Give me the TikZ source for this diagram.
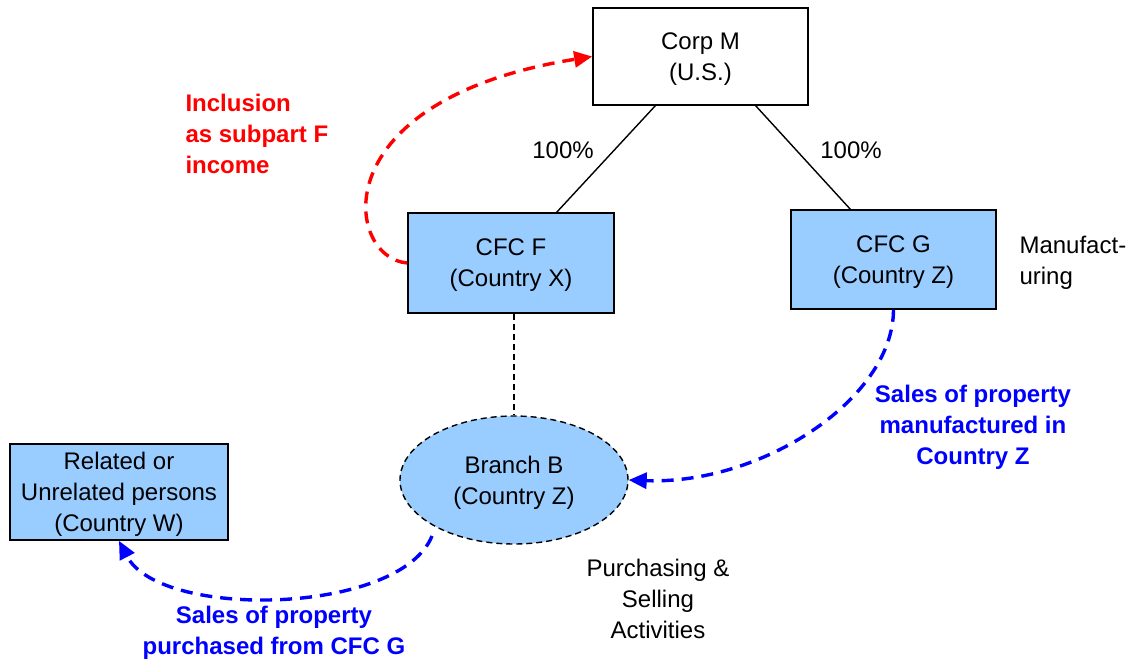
\documentclass[tikz,border=0pt]{standalone}
\usepackage{fontspec}
\setmainfont{Liberation Sans}
\usetikzlibrary{shapes.geometric,arrows.meta}
\definecolor{boxblue}{RGB}{153,204,255}
\begin{document}
\begin{tikzpicture}[x=1pt,y=-1pt,
  every node/.style={font=\fontsize{24}{31}\selectfont},
  entity/.style={draw=black,line width=1.6pt,align=center,inner sep=0pt},
  plain/.style={align=center},
  redlbl/.style={align=left,text=red,font=\fontsize{24}{31}\selectfont\bfseries},
  bluelbl/.style={align=center,text=blue,font=\fontsize{24}{31}\selectfont\bfseries},
  flowred/.style={draw=red,line width=3.4pt,dash pattern=on 12pt off 8pt,-{Triangle[length=18pt,width=16pt]}},
  flowblue/.style={draw=blue,line width=3.4pt,dash pattern=on 12pt off 8pt,-{Triangle[length=18pt,width=16pt]}},
  own/.style={draw=black,line width=1.4pt}]
\useasboundingbox (0,0) rectangle (1128,662);
\node[entity,minimum width=215pt,minimum height=97pt,text depth=-8pt] (M) at (700.5,56.5) {Corp M\\(U.S.)};
\node[entity,fill=boxblue,minimum width=206pt,minimum height=100pt,text depth=-6pt] (F) at (511,263) {CFC F\\(Country X)};
\node[entity,fill=boxblue,minimum width=205pt,minimum height=99pt,text depth=-6pt] (G) at (893.5,259.5) {CFC G\\(Country Z)};
\node[entity,fill=boxblue,ellipse,line width=1.4pt,dash pattern=on 6pt off 4pt,minimum width=228pt,minimum height=128pt,text depth=-20pt] (B) at (514,480) {Branch B\\(Country Z)};
\node[entity,fill=boxblue,minimum width=218pt,minimum height=96pt,text depth=-8pt] (W) at (119,492) {Related or\\Unrelated persons\\(Country W)};
\coordinate (Mf) at (656,105);
\coordinate (Ff) at (556,213);
\coordinate (Mg) at (755,105);
\coordinate (Gg) at (851,210);
\draw[own] (Mf) -- (Ff);
\draw[own] (Mg) -- (Gg);
\node[plain] (p1) at (563,150) {100\%};
\node[plain] (p2) at (851,150) {100\%};
\draw[own,dash pattern=on 6pt off 4pt] (B.north |- F.south) -- (B.north);
\draw[flowred] (F.west) .. controls (345,258) and (320,100) .. (M.west);
\draw[flowblue] (G.south) .. controls (893,400) and (760,485) .. (B.east);
\draw[flowblue] (432,536) .. controls (400,615) and (160,620) .. (W.south);
\node[redlbl,anchor=west] (inc) at (182,134) {Inclusion\\as subpart F\\income};
\node[bluelbl] (s1) at (973,427) {Sales of property\\manufactured in\\Country Z};
\node[bluelbl] (s2) at (274,633) {Sales of property\\purchased from CFC G};
\node[plain,align=left,anchor=west] (mf) at (1016,263) {Manufact-\\uring};
\node[plain] (ps) at (658,599) {Purchasing \&\\Selling\\Activities};
\end{tikzpicture}
\end{document}
